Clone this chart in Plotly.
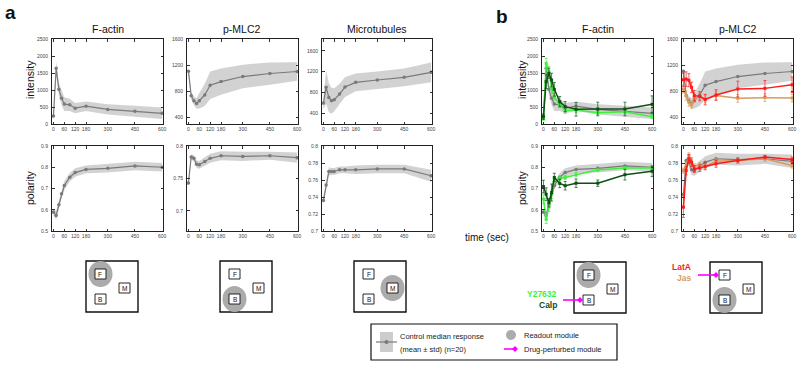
import plotly.graph_objects as go

# ---------------- data ----------------
t = [0, 15, 30, 45, 60, 90, 120, 180, 300, 450, 600]
x_ticks = [0, 60, 120, 180, 300, 450, 600]

# control medians (mean ± std)
fa_int = [235, 1640, 1020, 760, 585, 565, 465, 525, 430, 375, 315]
fa_int_sd = [60, 200, 180, 200, 200, 180, 150, 140, 150, 160, 170]
pm_int = [1108, 733, 656, 615, 656, 744, 892, 949, 1026, 1072, 1103]
pm_int_sd = [40, 55, 70, 80, 120, 170, 210, 200, 180, 170, 140]
mt_int = [594, 897, 703, 639, 658, 768, 903, 994, 1039, 1090, 1187]
mt_int_sd = [120, 320, 280, 250, 220, 200, 190, 170, 165, 170, 190]

fa_pol = [0.589, 0.573, 0.623, 0.675, 0.714, 0.753, 0.775, 0.790, 0.795, 0.806, 0.800]
fa_pol_sd = [0.015, 0.02, 0.02, 0.02, 0.02, 0.02, 0.02, 0.018, 0.02, 0.02, 0.02]
pm_pol = [0.743, 0.783, 0.781, 0.772, 0.771, 0.776, 0.781, 0.785, 0.784, 0.785, 0.782]
pm_pol_sd = [0.004, 0.004, 0.005, 0.006, 0.006, 0.006, 0.007, 0.007, 0.007, 0.006, 0.008]
mt_pol = [0.736, 0.754, 0.770, 0.770, 0.770, 0.772, 0.772, 0.772, 0.773, 0.773, 0.765]
mt_pol_sd = [0.004, 0.004, 0.005, 0.004, 0.004, 0.004, 0.004, 0.005, 0.005, 0.005, 0.007]

# drug perturbations
calp_int = [215, 1245, 1490, 1294, 1020, 657, 510, 431, 441, 441, 578]
calp_int_err = [80, 200, 150, 200, 200, 150, 150, 200, 200, 200, 250]
y27_int = [167, 1784, 1539, 1050, 804, 559, 392, 412, 333, 363, 216]
y27_int_err = [60, 150, 150, 150, 100, 80, 80, 80, 60, 60, 60]
calp_pol = [0.709, 0.673, 0.633, 0.681, 0.752, 0.724, 0.713, 0.725, 0.725, 0.765, 0.781]
calp_pol_err = [0.03, 0.03, 0.02, 0.04, 0.02, 0.02, 0.02, 0.02, 0.015, 0.025, 0.025]
y27_pol = [0.650, 0.555, 0.613, 0.673, 0.737, 0.748, 0.752, 0.765, 0.787, 0.797, 0.797]
y27_pol_err = [0.02, 0.02, 0.02, 0.02, 0.01, 0.01, 0.01, 0.01, 0.005, 0.005, 0.005]

lata_int = [977, 987, 970, 860, 734, 724, 673, 744, 835, 845, 900]
lata_int_err = [100, 110, 100, 80, 80, 70, 80, 80, 120, 120, 120]
jas_int = [835, 734, 633, 592, 683, 724, 683, 734, 693, 703, 698]
jas_int_err = [60, 70, 60, 50, 50, 50, 60, 70, 60, 60, 60]
lata_pol = [0.728, 0.771, 0.785, 0.781, 0.773, 0.774, 0.776, 0.779, 0.783, 0.787, 0.784]
lata_pol_err = [0.012, 0.005, 0.005, 0.005, 0.004, 0.004, 0.004, 0.004, 0.003, 0.002, 0.003]
jas_pol = [0.771, 0.778, 0.789, 0.781, 0.776, 0.778, 0.776, 0.782, 0.783, 0.785, 0.777]
jas_pol_err = [0.003] * 11

titles = ["F-actin", "p-MLC2", "Microtubules", "F-actin", "p-MLC2"]

# ---------------- layout helpers ----------------
W, H = 800, 366
FONT = "Arial, Liberation Sans, sans-serif"


def px(x):
    return x / W


def py(y):
    return 1 - y / H


cols = [(52, 163), (187, 298), (322, 432), (542, 653), (682, 793)]
rows = [(39, 124), (146, 231)]

GRAY_LINE = "#7a7a7a"
BAND = "rgba(195,195,195,0.75)"
BRIGHT_G = "#3ef03e"
DARK_G = "#0f4f14"
RED = "#ff1a1a"
ORANGE = "#d99a5e"
MAGENTA = "#ff00ff"

fig = go.Figure()

axis_cfg = {
    (0, 0): ([0, 2500], [0, 500, 1000, 1500, 2000, 2500]),
    (0, 1): ([300, 1600], [400, 800, 1200, 1600]),
    (0, 2): ([190, 1830], [400, 800, 1200, 1600]),
    (0, 3): ([0, 2500], [0, 500, 1000, 1500, 2000, 2500]),
    (0, 4): ([300, 1600], [400, 800, 1200, 1600]),
    (1, 0): ([0.5, 0.9], [0.5, 0.6, 0.7, 0.8, 0.9]),
    (1, 1): ([0.669, 0.8], [0.7, 0.75, 0.8]),
    (1, 2): ([0.7, 0.8], [0.7, 0.72, 0.74, 0.76, 0.78, 0.8]),
    (1, 3): ([0.5, 0.9], [0.5, 0.6, 0.7, 0.8, 0.9]),
    (1, 4): ([0.7, 0.8], [0.7, 0.72, 0.74, 0.76, 0.78, 0.8]),
}

axis_index = {}
k = 0
for r in range(2):
    for c in range(5):
        k += 1
        axis_index[(r, c)] = k
        xr, yr = cols[c], rows[r]
        yrange, yticks = axis_cfg[(r, c)]
        xa = "xaxis" if k == 1 else f"xaxis{k}"
        ya = "yaxis" if k == 1 else f"yaxis{k}"
        common = dict(showline=True, linecolor="#222", linewidth=1, mirror="ticks",
                      ticks="inside", ticklen=2.5, tickwidth=0.8, tickcolor="#333",
                      showgrid=False, zeroline=False, automargin=False,
                      tickfont=dict(size=5, color="#444", family=FONT))
        fig.update_layout(**{
            xa: dict(domain=[px(xr[0]), px(xr[1])], anchor=f"y{k}" if k > 1 else "y",
                     range=[-8, 605], tickvals=x_ticks, **common),
            ya: dict(domain=[py(yr[1]), py(yr[0])], anchor=f"x{k}" if k > 1 else "x",
                     range=yrange, tickvals=yticks, ticklabelstandoff=2, **common),
        })


def refs(r, c):
    k = axis_index[(r, c)]
    return ("x" if k == 1 else f"x{k}"), ("y" if k == 1 else f"y{k}")


def control(r, c, y, sd):
    xr, yr = refs(r, c)
    up = [a + b for a, b in zip(y, sd)]
    lo = [a - b for a, b in zip(y, sd)]
    fig.add_trace(go.Scatter(x=t + t[::-1], y=up + lo[::-1], fill="toself",
                             fillcolor=BAND, line=dict(width=0), mode="lines",
                             hoverinfo="skip", showlegend=False, xaxis=xr, yaxis=yr))
    fig.add_trace(go.Scatter(x=t, y=y, mode="lines+markers",
                             line=dict(color=GRAY_LINE, width=1.2),
                             marker=dict(color=GRAY_LINE, size=3.5),
                             showlegend=False, xaxis=xr, yaxis=yr))


def drug(r, c, y, err, color, width=1.5):
    xr, yr = refs(r, c)
    fig.add_trace(go.Scatter(x=t, y=y, mode="lines+markers",
                             line=dict(color=color, width=width),
                             marker=dict(color=color, size=3, symbol="square"),
                             error_y=dict(type="data", array=err, color=color,
                                          thickness=0.7, width=1.5),
                             showlegend=False, xaxis=xr, yaxis=yr))


# panel a
control(0, 0, fa_int, fa_int_sd)
control(0, 1, pm_int, pm_int_sd)
control(0, 2, mt_int, mt_int_sd)
control(1, 0, fa_pol, fa_pol_sd)
control(1, 1, pm_pol, pm_pol_sd)
control(1, 2, mt_pol, mt_pol_sd)

# panel b
control(0, 3, fa_int, fa_int_sd)
drug(0, 3, y27_int, y27_int_err, BRIGHT_G)
drug(0, 3, calp_int, calp_int_err, DARK_G)
control(1, 3, fa_pol, fa_pol_sd)
drug(1, 3, y27_pol, y27_pol_err, BRIGHT_G)
drug(1, 3, calp_pol, calp_pol_err, DARK_G)

control(0, 4, pm_int, pm_int_sd)
drug(0, 4, jas_int, jas_int_err, ORANGE)
drug(0, 4, lata_int, lata_int_err, RED)
control(1, 4, pm_pol, pm_pol_sd)
drug(1, 4, jas_pol, jas_pol_err, ORANGE)
drug(1, 4, lata_pol, lata_pol_err, RED)

# ---------------- annotations ----------------
ann = []


def text(x, y, s, size=10, color="#111", xanchor="center", yanchor="middle", bold=False,
         angle=0):
    if bold:
        s = f"<b>{s}</b>"
    ann.append(dict(x=px(x), y=py(y), xref="paper", yref="paper", text=s, showarrow=False,
                    font=dict(size=size, color=color, family=FONT), xanchor=xanchor,
                    yanchor=yanchor, textangle=angle))


for c, ttl in enumerate(titles):
    text((cols[c][0] + cols[c][1]) / 2, 29, ttl, size=10.5)

text(10, 12, "a", size=19, bold=True)
text(502, 16, "b", size=19, bold=True)
text(30, 80, "intensity", size=10.5, angle=-90)
text(30, 188, "polarity", size=10.5, angle=-90)
text(522, 80, "intensity", size=10.5, angle=-90)
text(522, 188, "polarity", size=10.5, angle=-90)
text(463, 237, "time (sec)", size=10, xanchor="left")

# ---------------- diagrams ----------------
shapes = []
BOX_W, BOX_H = 52, 51
inner = {"F": (9, 8), "M": (33, 22), "B": (9, 33)}
IN_W, IN_H = 11, 10
diagrams = [(86, 261, "F"), (220, 261, "B"), (354, 261, "M"), (574, 262, "F"), (710, 262, "B")]

for (bx, by, hl) in diagrams:
    shapes.append(dict(type="rect", xref="paper", yref="paper", x0=px(bx), x1=px(bx + BOX_W),
                       y0=py(by + BOX_H), y1=py(by), line=dict(color="#111", width=1.4),
                       fillcolor="white"))
    ox, oy = inner[hl]
    cx, cy = bx + ox + IN_W / 2, by + oy + IN_H / 2
    shapes.append(dict(type="circle", xref="paper", yref="paper", x0=px(cx - 12), x1=px(cx + 12),
                       y0=py(cy + 13), y1=py(cy - 13), line=dict(width=0),
                       fillcolor="#ababab"))
    for lab, (ox, oy) in inner.items():
        shapes.append(dict(type="rect", xref="paper", yref="paper", x0=px(bx + ox),
                           x1=px(bx + ox + IN_W), y0=py(by + oy + IN_H), y1=py(by + oy),
                           line=dict(color="#111", width=0.9), fillcolor="white"))
        text(bx + ox + IN_W / 2, by + oy + IN_H / 2, lab, size=6.5)


def diamond(x, y, s=3):
    shapes.append(dict(type="path", xref="paper", yref="paper",
                       path=f"M {px(x - s)} {py(y)} L {px(x)} {py(y - s)} L {px(x + s)} {py(y)} "
                            f"L {px(x)} {py(y + s)} Z",
                       fillcolor=MAGENTA, line=dict(width=0)))


def magenta_line(x0, x1, y):
    shapes.append(dict(type="line", xref="paper", yref="paper", x0=px(x0), x1=px(x1),
                       y0=py(y), y1=py(y), line=dict(color=MAGENTA, width=1.6)))
    diamond(x1, y)


# b1: perturb B
magenta_line(563, 580, 300)
text(559, 294, "Y27632", size=8.5, color=BRIGHT_G, xanchor="right", bold=True)
text(559, 305, "Calp", size=8.5, color=DARK_G, xanchor="right", bold=True)
# b2: perturb F
magenta_line(698, 716, 275)
text(693, 267, "LatA", size=8.5, color=RED, xanchor="right", bold=True)
text(693, 278, "Jas", size=8.5, color=ORANGE, xanchor="right", bold=True)

# ---------------- legend box ----------------
shapes.append(dict(type="rect", xref="paper", yref="paper", x0=px(371), x1=px(617),
                   y0=py(360), y1=py(324), line=dict(color="#111", width=1.2), fillcolor="white"))
shapes.append(dict(type="rect", xref="paper", yref="paper", x0=px(380), x1=px(393),
                   y0=py(352), y1=py(332), line=dict(width=0), fillcolor="#cccccc"))
shapes.append(dict(type="line", xref="paper", yref="paper", x0=px(376), x1=px(397),
                   y0=py(342), y1=py(342), line=dict(color=GRAY_LINE, width=1.2)))
shapes.append(dict(type="circle", xref="paper", yref="paper", x0=px(384.5), x1=px(388.5),
                   y0=py(344), y1=py(340), line=dict(width=0), fillcolor=GRAY_LINE))
text(398, 336, "Control median response", size=7.5, color="#222", xanchor="left")
text(398, 349, "(mean ± std) (n=20)", size=7.5, color="#222", xanchor="left")
shapes.append(dict(type="circle", xref="paper", yref="paper", x0=px(506), x1=px(516),
                   y0=py(340), y1=py(330), line=dict(width=0), fillcolor="#ababab"))
text(522, 335, "Readout module", size=7.5, color="#222", xanchor="left")
magenta_line(504, 515, 349)
text(522, 349, "Drug-perturbed module", size=7.5, color="#222", xanchor="left")

fig.update_layout(width=W, height=H, margin=dict(l=0, r=0, t=0, b=0),
                  paper_bgcolor="white", plot_bgcolor="white", showlegend=False,
                  annotations=ann, shapes=shapes, font=dict(family=FONT))

fig.write_html("out.html", config={"displayModeBar": False},
               post_script="document.body.style.margin='0';document.body.style.padding='0';"
                           "document.body.style.overflow='hidden';")
